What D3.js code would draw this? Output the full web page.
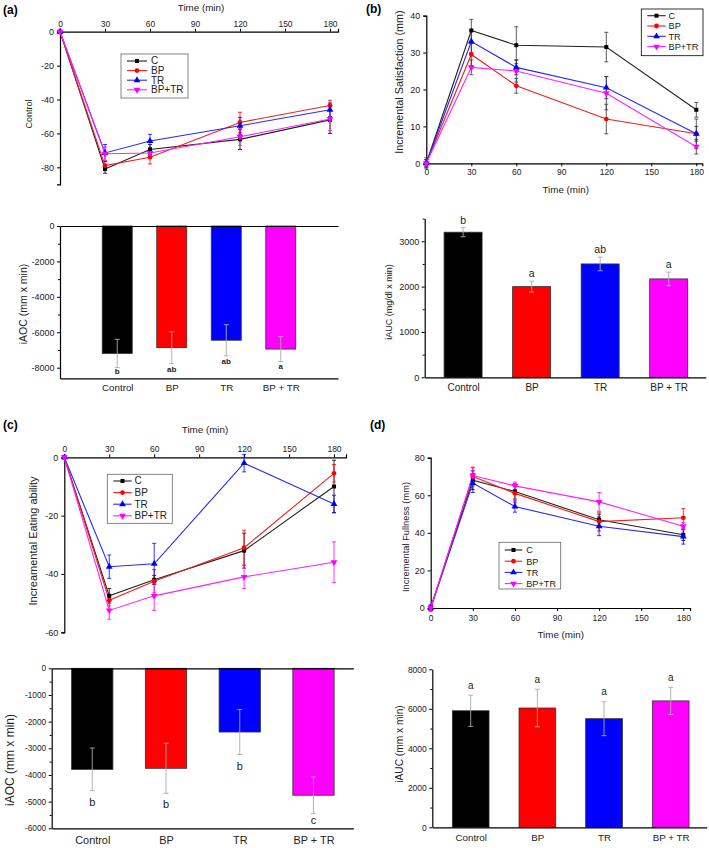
<!DOCTYPE html>
<html>
<head>
<meta charset="utf-8">
<script src="https://cdn.jsdelivr.net/npm/d3@7"></script>
<style>
  body { margin: 0; background: #fff; }
  svg { font-family: "Liberation Sans", Arial, sans-serif; }
  .axis path, .axis line { stroke: #000; }
  .axis path { stroke-width: 1.2; }
  .axis text { fill: #222; }
</style>
</head>
<body>
<svg id="fig" width="709" height="848"></svg>
<script>
// ---- data ----
var times = [0, 30, 60, 120, 180];
var timeTicks = [0, 30, 60, 90, 120, 150, 180];
var seriesNames = ["C", "BP", "TR", "BP+TR"];
var groups = ["Control", "BP", "TR", "BP + TR"];

// (a) change from baseline
var aC = [0, -81, -69.5, -63.5, -52];
var aBP = [0, -79, -74, -53.5, -43.5];
var aTR = [0, -71.5, -64.5, -55.5, -46];
var aBPTR = [0, -72, -71.5, -62, -51.5];
var aCErr = [0, 2.5, 3, 6, 8];
var aBPErr = [0, 2.5, 4, 6, 3];
var aTRErr = [0, 5, 4, 5, 4];
var aBPTRErr = [0, 4, 3, 5, 7];
var aBars = [-7200, -6870, -6450, -6950];
var aBarsErr = [800, 900, 880, 700];
var aLetters = ["b", "ab", "ab", "a"];

// (b) incremental satisfaction
var bC = [0, 36, 32, 31.5, 14.5];
var bBP = [0, 29.5, 21, 12, 8];
var bTR = [0, 33, 26, 20.5, 8];
var bBPTR = [0, 26, 25, 19, 4.5];
var bCErr = [1.5, 3, 5, 4, 2];
var bBPErr = [1, 3, 2, 4, 2];
var bTRErr = [1, 3, 2, 3, 4];
var bBPTRErr = [1, 2, 3, 4.5, 2];
var bBars = [3200, 2000, 2500, 2170];
var bBarsErr = [100, 120, 150, 150];
var bLetters = ["b", "a", "ab", "a"];

// (c) incremental eating ability
var cC = [0, -47.5, -42, -32, -10];
var cBP = [0, -49, -42.5, -31, -5.5];
var cTR = [0, -37.5, -36.5, -2, -16];
var cBPTR = [0, -52.5, -47.5, -41, -36];
var cCErr = [0, 2.5, 1.5, 6, 9];
var cBPErr = [0, 2, 4, 6, 3];
var cTRErr = [0, 4, 7, 3, 3];
var cBPTRErr = [0, 3, 5, 4, 7];
var cBars = [-3790, -3750, -2390, -4760];
var cBarsErr = [800, 940, 845, 690];
var cLetters = ["b", "b", "b", "c"];

// (d) incremental fullness
var dC = [0, 68, 62, 47, 39];
var dBP = [0, 70, 61, 46, 48];
var dTR = [0, 66.5, 54, 43.5, 38];
var dBPTR = [0, 70.5, 65, 56.5, 43.5];
var dCErr = [1.5, 5, 4, 3, 3];
var dBPErr = [1.5, 5, 5, 5, 5];
var dTRErr = [1.5, 5, 3, 5, 4];
var dBPTRErr = [1.5, 4, 2, 5, 2];
var dBars = [5900, 6040, 5500, 6400];
var dBarsErr = [790, 950, 860, 690];
var dLetters = ["a", "a", "a", "a"];

// ---- styles ----
var colors = ["#000000", "#ff0000", "#0000ff", "#ff00ff"];
var lineColors = ["#222222", "#ee2020", "#2a2aee", "#ff20ff"];
var symbols = [d3.symbolSquare, d3.symbolCircle, d3.symbolTriangle, d3.symbolTriangle];
var symSizes = [16, 18, 20, 20];
var symRotate = [0, 0, 0, 180];

var svg = d3.select("#fig");
var numFmt = function (d) { return String(d); };

function panelLabel(txt, x, y) {
    svg.append("text").attr("x", x).attr("y", y)
        .attr("font-size", 12).attr("font-weight", "bold").text(txt);
}

function yTitle(g, txt, x, y, size) {
    g.append("text")
        .attr("transform", "translate(" + x + "," + y + ") rotate(-90)")
        .attr("text-anchor", "middle")
        .attr("font-size", size)
        .attr("fill", "#222")
        .text(txt);
}

function drawMarker(g, i, cx, cy) {
    g.append("path")
        .attr("d", d3.symbol().type(symbols[i]).size(symSizes[i])())
        .attr("transform", "translate(" + cx + "," + cy + ") rotate(" + symRotate[i] + ")")
        .attr("fill", colors[i]);
}

function linePanel(o) {
    var g = svg.append("g");
    var x = d3.scaleLinear().domain([0, 180]).range([o.x0, o.x180]);
    var xAx = x.copy().domain([0, x.invert(o.xEnd)]).range([o.x0, o.xEnd]);
    var y = d3.scaleLinear().domain(o.yDomain).range(o.yRange);

    var axisY = o.xTop ? y(0) : y(o.yDomain[0]);
    var xa = (o.xTop ? d3.axisTop(xAx) : d3.axisBottom(xAx))
        .tickValues(timeTicks).tickSizeOuter(0).tickSize(3).tickPadding(o.xPad)
        .tickFormat(numFmt);
    g.append("g").attr("class", "axis")
        .attr("transform", "translate(0," + axisY + ")")
        .call(xa)
        .attr("font-size", 8.5);

    var ya = d3.axisLeft(y).tickValues(o.yTicks).tickSizeOuter(0).tickSize(3)
        .tickPadding(3).tickFormat(numFmt);
    g.append("g").attr("class", "axis")
        .attr("transform", "translate(" + o.x0 + ",0)")
        .call(ya)
        .attr("font-size", 9);

    g.append("text").attr("x", o.xTitle[0]).attr("y", o.xTitle[1])
        .attr("text-anchor", "middle").attr("font-size", 9.8).attr("fill", "#222")
        .text("Time (min)");
    yTitle(g, o.yLabel, o.yLabelPos[0], o.yLabelPos[1], o.yLabelSize);

    // error bars
    o.series.forEach(function (vals, si) {
        var errs = o.errs[si];
        var ec = o.errColor || colors[si];
        vals.forEach(function (v, k) {
            if (!errs[k]) return;
            var cx = x(times[k]);
            g.append("line").attr("x1", cx).attr("x2", cx)
                .attr("y1", y(v - errs[k])).attr("y2", y(v + errs[k]))
                .attr("stroke", ec).attr("stroke-width", 0.8);
            [v - errs[k], v + errs[k]].forEach(function (e) {
                g.append("line").attr("x1", cx - 2).attr("x2", cx + 2)
                    .attr("y1", y(e)).attr("y2", y(e))
                    .attr("stroke", ec).attr("stroke-width", 0.8);
            });
        });
    });

    var line = d3.line().x(function (d, k) { return x(times[k]); }).y(function (d) { return y(d); });
    o.series.forEach(function (vals, si) {
        g.append("path").datum(vals).attr("d", line)
            .attr("fill", "none").attr("stroke", lineColors[si]).attr("stroke-width", 1.1);
    });
    o.series.forEach(function (vals, si) {
        vals.forEach(function (v, k) { drawMarker(g, si, x(times[k]), y(v)); });
    });

    // legend
    var L = o.legend;
    g.append("rect").attr("x", L.x).attr("y", L.y).attr("width", L.w).attr("height", L.h)
        .attr("fill", "#fff").attr("stroke", L.stroke || "#666").attr("stroke-width", 0.8);
    seriesNames.forEach(function (name, si) {
        var ry = L.row0 + si * L.step;
        g.append("line").attr("x1", L.lx1).attr("x2", L.lx2).attr("y1", ry).attr("y2", ry)
            .attr("stroke", lineColors[si]).attr("stroke-width", 1.1);
        drawMarker(g, si, (L.lx1 + L.lx2) / 2, ry);
        g.append("text").attr("x", L.tx).attr("y", ry + 3.4).attr("font-size", L.size)
            .attr("fill", "#222").text(name);
    });
}

function barPanel(o) {
    var g = svg.append("g");
    var xi = d3.scaleLinear().domain(o.idx).range([o.xStart, o.xEnd]);
    var y = d3.scaleLinear().domain(o.yDomain).range(o.yRange);
    var bottomY = y(o.yDomain[0]);

    g.selectAll("rect.bar").data(o.values).enter().append("rect")
        .attr("class", "bar")
        .attr("x", function (d, i) { return xi(i) - o.barW / 2; })
        .attr("y", function (d) { return Math.min(y(d), y(0)); })
        .attr("width", o.barW)
        .attr("height", function (d) { return Math.abs(y(d) - y(0)); })
        .attr("fill", function (d, i) { return colors[i]; })
        .attr("stroke", "#333").attr("stroke-width", 0.8);

    o.values.forEach(function (v, i) {
        var e = o.errs[i], cx = xi(i);
        g.append("line").attr("x1", cx).attr("x2", cx)
            .attr("y1", y(v - e)).attr("y2", y(v + e))
            .attr("stroke", "#aaa").attr("stroke-width", 0.9);
        [v - e, v + e].forEach(function (ev) {
            g.append("line").attr("x1", cx - 2.5).attr("x2", cx + 2.5)
                .attr("y1", y(ev)).attr("y2", y(ev))
                .attr("stroke", "#aaa").attr("stroke-width", 0.9);
        });
        var ly;
        if (o.below) {
            ly = Math.min(y(v - e) + o.letterOff, bottomY - 4);
        } else {
            ly = y(v + e) - o.letterOff;
        }
        g.append("text").attr("x", cx).attr("y", ly).attr("text-anchor", "middle")
            .attr("font-size", o.letterSize).attr("font-weight", o.letterBold ? "bold" : "normal")
            .attr("fill", "#222").text(o.letters[i]);
    });

    var xa = d3.axisBottom(xi).tickValues([0, 1, 2, 3]).tickSize(0).tickSizeOuter(0)
        .tickPadding(o.catPad).tickFormat(function (i) { return groups[i]; });
    g.append("g").attr("class", "axis").attr("transform", "translate(0," + bottomY + ")")
        .call(xa).attr("font-size", o.catSize);

    if (o.topLine) {
        g.append("g").attr("class", "axis").attr("transform", "translate(0," + y(0) + ")")
            .call(d3.axisTop(xi).tickValues([]).tickSizeOuter(0));
    }

    var ya = d3.axisLeft(y).tickValues(o.ticks).tickSize(3).tickSizeOuter(0)
        .tickPadding(2.5).tickFormat(numFmt);
    g.append("g").attr("class", "axis").attr("transform", "translate(" + o.xStart + ",0)")
        .call(ya).attr("font-size", o.tickSize);
    g.append("g").attr("class", "axis").attr("transform", "translate(" + o.xStart + ",0)")
        .call(d3.axisLeft(y).tickValues(o.minor).tickSize(2).tickSizeOuter(0).tickFormat(""))
        .select("path").remove();

    yTitle(g, o.yLabel, o.yLabelPos[0], o.yLabelPos[1], o.yLabelSize);
}

// ---- (a) ----
panelLabel("(a)", 3, 14);
linePanel({
    x0: 60, x180: 330, xEnd: 338, yDomain: [-90, 0], yRange: [184.3, 31.7],
    yTicks: [-80, -60, -40, -20, 0], xTop: true, xPad: 1.5,
    xTitle: [201, 10.5], yLabel: "Control", yLabelPos: [32, 114], yLabelSize: 9,
    series: [aC, aBP, aTR, aBPTR], errs: [aCErr, aBPErr, aTRErr, aBPTRErr],
    legend: { x: 121, y: 54, w: 67, h: 44, row0: 61, step: 9.6, lx1: 127, lx2: 147, tx: 151, size: 10 }
});
barPanel({
    xStart: 60, xEnd: 338, idx: [-1.05, 4.05], barW: 30,
    yDomain: [-8600, 0], yRange: [378.3, 226],
    ticks: [-8000, -6000, -4000, -2000, 0], minor: [-7000, -5000, -3000, -1000], tickSize: 9,
    values: aBars, errs: aBarsErr, letters: aLetters,
    below: true, letterOff: 8, letterSize: 8, letterBold: true,
    topLine: true, catPad: 6, catSize: 9.8,
    yLabel: "iAOC (mm x min)", yLabelPos: [27, 304], yLabelSize: 10.5
});

// ---- (b) ----
panelLabel("(b)", 366, 13);
linePanel({
    x0: 426.3, x180: 696.3, xEnd: 702.3, yDomain: [0, 40], yRange: [163.3, 15.7],
    yTicks: [0, 10, 20, 30, 40], xTop: false, xPad: 3,
    xTitle: [565.7, 192.8], yLabel: "Incremental Satisfaction (mm)", yLabelPos: [403, 82], yLabelSize: 10.8,
    series: [bC, bBP, bTR, bBPTR], errs: [bCErr, bBPErr, bTRErr, bBPTRErr], errColor: "#333",
    legend: { x: 641.3, y: 9, w: 61.7, h: 46.7, row0: 15.7, step: 10.3, lx1: 647.3, lx2: 665.7, tx: 668.5, size: 9.2, stroke: "#000" }
});
barPanel({
    xStart: 424.7, xEnd: 705.7, idx: [-0.56, 3.54], barW: 38,
    yDomain: [0, 3500], yRange: [377.3, 218.6],
    ticks: [0, 1000, 2000, 3000], minor: [500, 1500, 2500, 3500], tickSize: 9,
    values: bBars, errs: bBarsErr, letters: bLetters,
    below: false, letterOff: 4, letterSize: 10.5, letterBold: false,
    topLine: false, catPad: 6.5, catSize: 10,
    yLabel: "iAUC (mg/dl x min)", yLabelPos: [392, 302], yLabelSize: 9
});

// ---- (c) ----
panelLabel("(c)", 3, 429);
linePanel({
    x0: 64.3, x180: 334, xEnd: 346, yDomain: [-60, 0], yRange: [632.3, 457.3],
    yTicks: [-60, -40, -20, 0], xTop: true, xPad: 2.5,
    xTitle: [205, 432.8], yLabel: "Increamental Eating ability", yLabelPos: [37, 541], yLabelSize: 11,
    series: [cC, cBP, cTR, cBPTR], errs: [cCErr, cBPErr, cTRErr, cBPTRErr],
    legend: { x: 107.3, y: 474.3, w: 65, h: 49, row0: 481, step: 11.6, lx1: 113.3, lx2: 131.7, tx: 134.5, size: 10 }
});
barPanel({
    xStart: 51.7, xEnd: 353.3, idx: [-0.55, 3.54], barW: 41.3,
    yDomain: [-6000, 0], yRange: [828.3, 668.3],
    ticks: [-6000, -5000, -4000, -3000, -2000, -1000, 0],
    minor: [-5500, -4500, -3500, -2500, -1500, -500], tickSize: 8.3,
    values: cBars, errs: cBarsErr, letters: cLetters,
    below: true, letterOff: 15, letterSize: 11, letterBold: false,
    topLine: true, catPad: 8, catSize: 10.9,
    yLabel: "iAOC (mm x min)", yLabelPos: [14, 760], yLabelSize: 12
});

// ---- (d) ----
panelLabel("(d)", 370, 429);
linePanel({
    x0: 430.7, x180: 683.3, xEnd: 690, yDomain: [0, 80], yRange: [608, 457.7],
    yTicks: [0, 20, 40, 60, 80], xTop: false, xPad: 4,
    xTitle: [560.7, 637.5], yLabel: "Incremental Fullness (mm)", yLabelPos: [409, 537], yLabelSize: 9.3,
    series: [dC, dBP, dTR, dBPTR], errs: [dCErr, dBPErr, dTRErr, dBPTRErr],
    legend: { x: 499, y: 542.3, w: 61.7, h: 46.7, row0: 550, step: 11.2, lx1: 504.7, lx2: 522.3, tx: 526.2, size: 9.2 }
});
barPanel({
    xStart: 432.3, xEnd: 706.7, idx: [-0.576, 3.54], barW: 36.7,
    yDomain: [0, 8000], yRange: [827.3, 669.3],
    ticks: [0, 2000, 4000, 6000, 8000], minor: [1000, 3000, 5000, 7000], tickSize: 8.5,
    values: dBars, errs: dBarsErr, letters: dLetters,
    below: false, letterOff: 6.5, letterSize: 10, letterBold: false,
    topLine: false, catPad: 7, catSize: 9.8,
    yLabel: "iAUC (mm x min)", yLabelPos: [402.5, 744], yLabelSize: 10.2
});
</script>
</body>
</html>
